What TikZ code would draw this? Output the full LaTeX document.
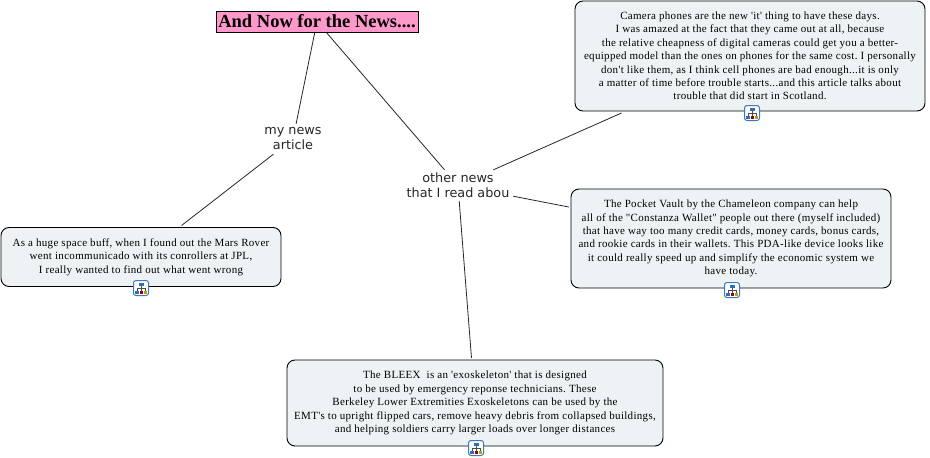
\documentclass[tikz,border=0pt]{standalone}
\usepackage{fontspec}
\newfontfamily\bodyfont[LetterSpace=2.8]{Liberation Serif}
\newfontfamily\titlefont{Liberation Serif}
\newfontfamily\labelfont{DejaVu Sans}
\definecolor{boxfill}{HTML}{EDF3F5}
\definecolor{titlefill}{HTML}{FF99CC}
\definecolor{iconblue}{HTML}{2F6FB5}
\definecolor{iconedge}{HTML}{3B78C0}
\tikzset{
  x=1pt,y=-1pt,
  notebox/.style={draw=black,line width=0.9pt,fill=boxfill,rounded corners=8pt,align=center,
    font=\frenchspacing\bodyfont\fontsize{11}{13.4}\selectfont,inner sep=0pt,outer sep=2pt,text=black},
  titlebox/.style={draw=black,line width=0.9pt,fill=titlefill,inner sep=0pt,minimum width=202pt,minimum height=21pt,
    font=\titlefont\bfseries\fontsize{18.5}{20}\selectfont,outer sep=1pt},
  topic/.style={align=center,font=\labelfont\fontsize{12.8}{15}\selectfont,inner sep=0pt,text=black!85},
  link/.style={draw=black!85,line width=0.8pt},
  mapicon/.pic={
    \draw[iconedge,line width=1pt,fill=white,rounded corners=2.5pt] (-7.5,-7.5) rectangle (7.5,7.5);
    \draw[black!70,line width=0.6pt] (0,-3) -- (0,0) (-4,3) -- (-4,0) -- (4,0) -- (4,3) (0,0) -- (0,4);
    \fill[iconblue] (-2.5,-5.5) rectangle (2.5,-2.5);
    \fill[iconblue] (-6,2.5) rectangle (-2.5,5.5);
    \fill[red!60!black] (-1.5,3) rectangle (1.5,6);
    \fill[olive!70!yellow] (2.5,2.5) rectangle (6,5.5);
  }
}
\begin{document}
\begin{tikzpicture}
\useasboundingbox (0,0) rectangle (930,458);
\node[titlebox] (title) at (317,21.5) {And Now for the News....};
\node[topic,minimum width=56pt,minimum height=30pt] (mine) at (293,139) {my news\\article};
\node[topic,minimum width=110pt,minimum height=31pt] (other) at (458,185.5) {other news\\that I read abou};
\node[notebox,minimum width=350pt,minimum height=110pt] (camera) at (750,56) {Camera phones are the new 'it' thing to have these days.\\
I was amazed at the fact that they came out at all, because\\
the relative cheapness of digital cameras could get you a better-\\
equipped model than the ones on phones for the same cost. I personally\\
don't like them, as I think cell phones are bad enough...it is only\\
a matter of time before trouble starts...and this article talks about\\
trouble that did start in Scotland.};
\node[notebox,minimum width=320pt,minimum height=99pt] (pocket) at (731,238.5) {The Pocket Vault by the Chameleon company can help\\
all of the "Constanza Wallet" people out there (myself included)\\
that have way too many credit cards, money cards, bonus cards,\\
and rookie cards in their wallets. This PDA-like device looks like\\
it could really speed up and simplify the economic system we\\
have today.};
\node[notebox,minimum width=280pt,minimum height=59pt] (mars) at (141,257) {As a huge space buff, when I found out the Mars Rover\\
went incommunicado with its conrollers at JPL,\\
I really wanted to find out what went wrong};
\node[notebox,minimum width=376pt,minimum height=86pt] (bleex) at (475,403) {The BLEEX\ \ is an 'exoskeleton' that is designed\\
to be used by emergency reponse technicians. These\\
Berkeley Lower Extremities Exoskeletons can be used by the\\
EMT's to upright flipped cars, remove heavy debris from collapsed buildings,\\
and helping soldiers carry larger loads over longer distances};
\draw[link] (title) -- (mine);
\draw[link] (title) -- (other);
\draw[link] (mine) -- (mars);
\draw[link] (other) -- (camera);
\draw[link] (other) -- (pocket);
\draw[link] (other) -- (bleex);
\pic at (752,113) {mapicon};
\pic at (732,290) {mapicon};
\pic at (141,288) {mapicon};
\pic at (476,448) {mapicon};
\end{tikzpicture}
\end{document}
